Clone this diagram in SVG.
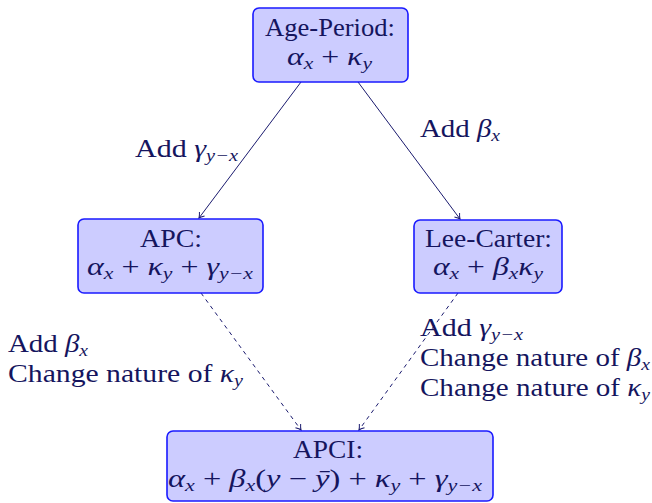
<svg xmlns="http://www.w3.org/2000/svg" width="652" height="503" viewBox="0 0 652 503">
<defs>
<style>
.box{fill:#ccccff;stroke:#1a1aff;stroke-width:1.6}
text{font-family:"Liberation Serif","Times New Roman",serif;font-size:25px;fill:#15155e}
.m{font-style:italic}
.s{font-style:italic;font-size:17px}
.edge{fill:none;stroke:#1a1a6e;stroke-width:1}
.dash{stroke-dasharray:4 4}
</style>
<marker id="ah" viewBox="-6 -4 7 8" markerWidth="7" markerHeight="8" refX="0" refY="0" orient="auto" markerUnits="userSpaceOnUse">
<path d="M-5,-3.2 Q-1.8,-0.6 0,0 Q-1.8,0.6 -5,3.2" fill="none" stroke="#1a1a6e" stroke-width="1"/>
</marker>
</defs>
<rect width="652" height="503" fill="#ffffff"/>
<g id="connectors">
<line class="edge" x1="301" y1="82" x2="199" y2="218" marker-end="url(#ah)"/>
<line class="edge" x1="358" y1="82" x2="460" y2="219" marker-end="url(#ah)"/>
<line class="edge dash" x1="201" y1="293" x2="301" y2="430" marker-end="url(#ah)"/>
<line class="edge dash" x1="458" y1="293" x2="359" y2="430" marker-end="url(#ah)"/>
<text x="135" y="157" textLength="103" lengthAdjust="spacingAndGlyphs">Add <tspan class="m">γ</tspan><tspan class="s" dy="4">y−x</tspan></text>
<text x="420" y="137" textLength="80" lengthAdjust="spacingAndGlyphs">Add <tspan class="m">β</tspan><tspan class="s" dy="4">x</tspan></text>
<text x="8" y="352" textLength="80" lengthAdjust="spacingAndGlyphs">Add <tspan class="m">β</tspan><tspan class="s" dy="4">x</tspan></text>
<text x="8" y="382" textLength="235" lengthAdjust="spacingAndGlyphs">Change nature of <tspan class="m">κ</tspan><tspan class="s" dy="4">y</tspan></text>
<text x="420" y="336" textLength="103" lengthAdjust="spacingAndGlyphs">Add <tspan class="m">γ</tspan><tspan class="s" dy="4">y−x</tspan></text>
<text x="420" y="366" textLength="230" lengthAdjust="spacingAndGlyphs">Change nature of <tspan class="m">β</tspan><tspan class="s" dy="4">x</tspan></text>
<text x="420" y="396" textLength="230" lengthAdjust="spacingAndGlyphs">Change nature of <tspan class="m">κ</tspan><tspan class="s" dy="4">y</tspan></text>
</g>
<g id="age-period">
<rect class="box" x="253" y="8" width="155" height="74" rx="6"/>
<text x="265" y="36" textLength="130" lengthAdjust="spacingAndGlyphs">Age-Period:</text>
<text x="287" y="65" textLength="85" lengthAdjust="spacingAndGlyphs"><tspan class="m">α</tspan><tspan class="s" dy="4">x</tspan><tspan dy="-4"> + </tspan><tspan class="m">κ</tspan><tspan class="s" dy="4">y</tspan></text>
</g>
<g id="apc">
<rect class="box" x="78" y="219" width="185" height="74" rx="6"/>
<text x="140" y="247" textLength="62" lengthAdjust="spacingAndGlyphs">APC:</text>
<text x="87" y="275" textLength="166" lengthAdjust="spacingAndGlyphs"><tspan class="m">α</tspan><tspan class="s" dy="4">x</tspan><tspan dy="-4"> + </tspan><tspan class="m">κ</tspan><tspan class="s" dy="4">y</tspan><tspan dy="-4"> + </tspan><tspan class="m">γ</tspan><tspan class="s" dy="4">y−x</tspan></text>
</g>
<g id="lee-carter">
<rect class="box" x="414" y="220" width="148" height="73" rx="6"/>
<text x="425" y="247" textLength="127" lengthAdjust="spacingAndGlyphs">Lee-Carter:</text>
<text x="433" y="275" textLength="110" lengthAdjust="spacingAndGlyphs"><tspan class="m">α</tspan><tspan class="s" dy="4">x</tspan><tspan dy="-4"> + </tspan><tspan class="m">β</tspan><tspan class="s" dy="4">x</tspan><tspan class="m" dy="-4">κ</tspan><tspan class="s" dy="4">y</tspan></text>
</g>
<g id="apci">
<rect class="box" x="167" y="431" width="326" height="70" rx="6"/>
<text x="293" y="458" textLength="70" lengthAdjust="spacingAndGlyphs">APCI:</text>
<text x="168" y="487" textLength="314" lengthAdjust="spacingAndGlyphs"><tspan class="m">α</tspan><tspan class="s" dy="4">x</tspan><tspan dy="-4"> + </tspan><tspan class="m">β</tspan><tspan class="s" dy="4">x</tspan><tspan dy="-4">(</tspan><tspan class="m">y</tspan><tspan> − </tspan><tspan class="m">ȳ</tspan><tspan>) + </tspan><tspan class="m">κ</tspan><tspan class="s" dy="4">y</tspan><tspan dy="-4"> + </tspan><tspan class="m">γ</tspan><tspan class="s" dy="4">y−x</tspan></text>
</g>
</svg>
